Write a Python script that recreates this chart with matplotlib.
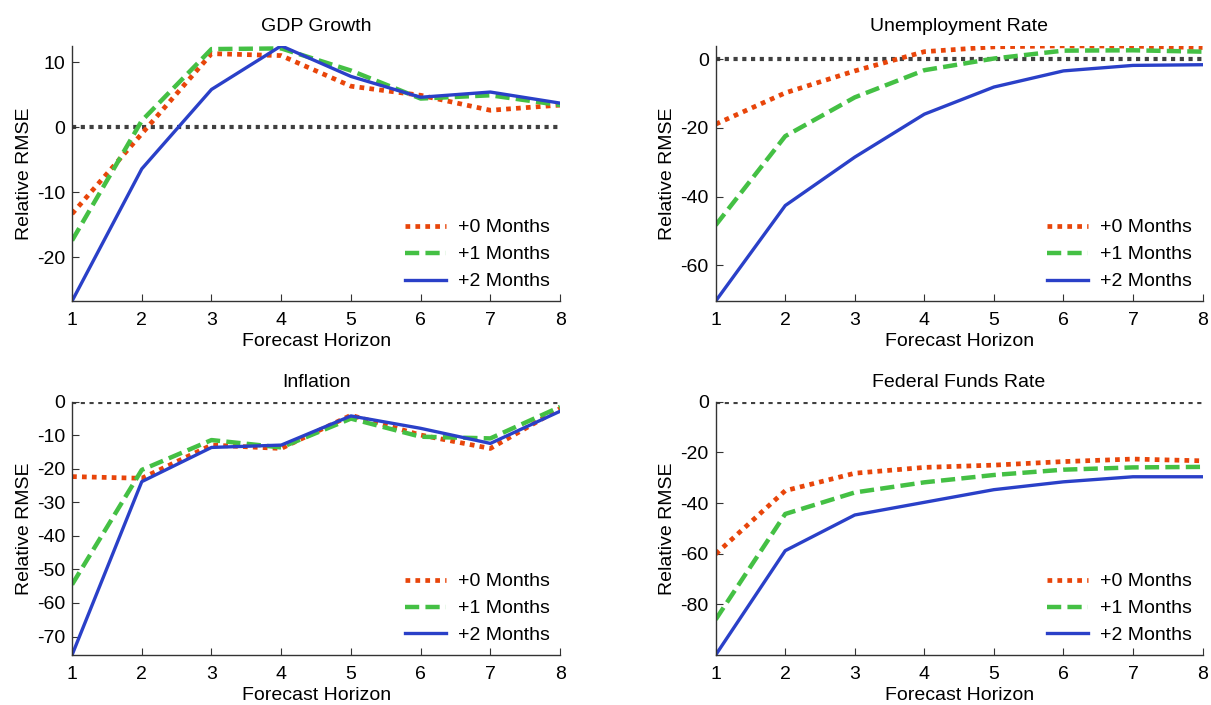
import matplotlib.pyplot as plt
import numpy as np

plt.rcParams['font.family'] = ['Liberation Sans', 'DejaVu Sans']
plt.rcParams['axes.unicode_minus'] = False

horizon = [1, 2, 3, 4, 5, 6, 7, 8]
labels = ['+0 Months', '+1 Months', '+2 Months']

gdp_0 = [-13.3, -1.0, 11.3, 11.0, 6.3, 4.9, 2.6, 3.4]
gdp_1 = [-17.4, 1.0, 12.0, 12.1, 8.7, 4.4, 4.9, 3.4]
gdp_2 = [-26.7, -6.4, 5.8, 12.5, 7.8, 4.6, 5.4, 3.7]

unemp_0 = [-18.9, -9.8, -3.4, 2.2, 3.6, 3.9, 3.8, 3.4]
unemp_1 = [-48.3, -22.4, -11.1, -3.2, 0.2, 2.5, 2.6, 2.2]
unemp_2 = [-70.4, -42.6, -28.5, -16.0, -8.1, -3.4, -1.8, -1.6]

infl_0 = [-22.3, -22.8, -12.9, -13.9, -4.0, -9.9, -13.9, -2.0]
infl_1 = [-54.5, -20.3, -11.4, -13.6, -5.0, -10.4, -10.9, -1.5]
infl_2 = [-75.5, -23.8, -13.6, -12.9, -4.2, -7.9, -12.4, -2.8]

ffr_0 = [-60.1, -35.1, -28.2, -25.9, -25.0, -23.6, -22.6, -23.3]
ffr_1 = [-86.0, -44.3, -35.8, -31.8, -28.9, -26.8, -25.9, -25.7]
ffr_2 = [-100.0, -58.8, -44.7, -39.7, -34.7, -31.6, -29.6, -29.6]

panels = [
    ('GDP Growth', [gdp_0, gdp_1, gdp_2], [-20, -10, 0, 10]),
    ('Unemployment Rate', [unemp_0, unemp_1, unemp_2], [-60, -40, -20, 0]),
    ('Inflation', [infl_0, infl_1, infl_2], [-70, -60, -50, -40, -30, -20, -10, 0]),
    ('Federal Funds Rate', [ffr_0, ffr_1, ffr_2], [-80, -60, -40, -20, 0]),
]

colors = ['#e8450a', '#44c044', '#2a40c8']
styles = [dict(ls=(0, (1, 1.1)), lw=3.4),
          dict(ls=(0, (3.2, 1.4)), lw=3.2),
          dict(ls='-', lw=2.4)]

fs = 14

fig = plt.figure(figsize=(12.11, 7.05), dpi=100)
rects = [
    [0.0595, 0.573, 0.403, 0.362],
    [0.591, 0.573, 0.402, 0.362],
    [0.0595, 0.071, 0.403, 0.359],
    [0.591, 0.071, 0.402, 0.359],
]

for rect, (title, series, yt) in zip(rects, panels):
    ax = fig.add_axes(rect)
    ax.plot(horizon, np.zeros(len(horizon)), color='#404040', ls=(0, (1, 1.1)), lw=3.0,
            dash_capstyle='butt', zorder=1)
    for s, c, st, lab in zip(series, colors, styles, labels):
        ax.plot(horizon, s, color=c, label=lab, dash_capstyle='butt', zorder=2, **st)
    allv = np.concatenate([np.array(s) for s in series] + [np.zeros(1)])
    ax.set_xlim(1, 8)
    ax.set_ylim(allv.min(), allv.max())
    ax.set_xticks(horizon)
    ax.set_yticks(yt)
    ax.spines['top'].set_visible(False)
    ax.spines['right'].set_visible(False)
    for sp in ['left', 'bottom']:
        ax.spines[sp].set_color('#333333')
        ax.spines[sp].set_linewidth(1.0)
    ax.tick_params(direction='in', length=5, labelsize=fs, color='#333333', pad=5)
    ax.tick_params(axis='x', pad=8)
    ax.set_title(title, fontsize=fs, pad=11)
    ax.set_xlabel('Forecast Horizon', fontsize=fs, labelpad=3)
    ax.set_ylabel('Relative RMSE', fontsize=fs, labelpad=3)
    ax.legend(loc='lower right', frameon=False, fontsize=fs, handlelength=2.1,
              handletextpad=0.6, labelspacing=0.48, borderaxespad=0.15)

fig.savefig('out.png', dpi=100)
